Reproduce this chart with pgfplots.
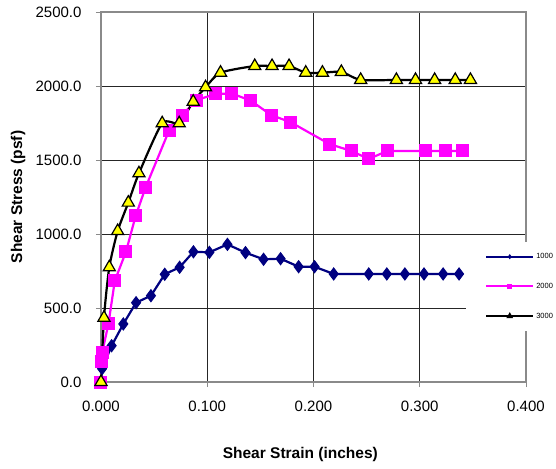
\documentclass[border=0pt]{standalone}
\usepackage{pgfplots}
\pgfplotsset{compat=1.18}
\usepackage{fontspec}
\setmainfont{Liberation Sans}
\definecolor{navy}{HTML}{000080}
\definecolor{mag}{HTML}{FF00FF}
\definecolor{yel}{HTML}{FFFF00}
\definecolor{frame}{HTML}{8A8A8A}
\pgfplotsset{
  legA/.style={legend image code/.code={\draw[mark repeat=2, mark phase=2, ##1, mark size=1.8pt, line width=2pt] plot coordinates {(0pt,0pt) (23.5pt,0pt) (47pt,0pt)};}},
  legB/.style={legend image code/.code={\draw[mark repeat=2, mark phase=2, ##1, mark size=2pt, mark options={fill=black}, line width=2pt, sharp plot] plot coordinates {(0pt,0pt) (23.5pt,0pt) (47pt,0pt)};}},
}
\begin{document}
\begin{tikzpicture}
\useasboundingbox (-101pt,-86pt) rectangle (455pt,382pt);
\begin{axis}[
  scale only axis,
  width=425pt, height=370pt,
  xmin=0, xmax=0.4, ymin=0, ymax=2500,
  xtick={0,0.1,0.2,0.3,0.4},
  ytick={0,500,1000,1500,2000,2500},
  /pgf/number format/assume math mode=true,
  xticklabel style={/pgf/number format/.cd, fixed, fixed zerofill, precision=3, /tikz/.cd, yshift=-10pt},
  yticklabel style={/pgf/number format/.cd, fixed, fixed zerofill, precision=1, 1000 sep={}, /tikz/.cd, xshift=-11pt},
  scaled x ticks=false, scaled y ticks=false,
  tick label style={font=\fontsize{15}{18}\selectfont},
  tick align=outside, tickpos=left,
  major tick length=5pt,
  every tick/.style={draw=frame, line width=0.8pt},
  axis line style={draw=frame, line width=1.6pt},
  grid=major,
  major grid style={draw=black!85, line width=0.8pt},
  xlabel={\textbf{Shear Strain (inches)}},
  ylabel={\textbf{Shear Stress (psf)}},
  every axis x label/.style={at={(axis description cs:0.469,-0.197)}, anchor=center, font=\fontsize{15.5}{18}\selectfont},
  every axis y label/.style={at={(axis description cs:-0.195,0.5)}, anchor=center, rotate=90, font=\fontsize{15.5}{18}\selectfont},
  legend style={at={(rel axis cs:0.859,0.378)}, anchor=north west, fill=white, draw=none,
    font=\fontsize{7.5}{8}\selectfont, inner xsep=19pt, inner ysep=9pt,
    row sep=19pt, /tikz/every even column/.append style={column sep=3pt}},
  legend cell align=left,
]
\addplot[color=navy, line width=2.2pt, mark=diamond*, mark size=6pt, mark options={fill=navy, draw=navy, line width=1pt}, legA]
coordinates {
(0,0) (0.001,90) (0.010,245) (0.021,392) (0.033,536) (0.047,583) (0.060,728) (0.074,775)
(0.087,880) (0.102,876) (0.119,930) (0.136,874) (0.153,829) (0.169,833) (0.186,779)
(0.201,779) (0.219,730) (0.252,730) (0.269,730) (0.286,730) (0.304,730) (0.322,730) (0.337,730)
};
\addlegendentry{1000}
\addplot[color=mag, line width=2.2pt, mark=square*, mark size=6pt, mark options={fill=mag, draw=mag, line width=1pt}, legA]
coordinates {
(0,0) (0.0005,140) (0.001,196) (0.007,392) (0.013,684) (0.0235,880) (0.0326,1122) (0.042,1315)
(0.064,1698) (0.0764,1804) (0.090,1905) (0.108,1946) (0.1228,1950) (0.141,1901) (0.160,1804)
(0.1786,1755) (0.215,1608) (0.2356,1561) (0.252,1507) (0.2694,1561) (0.305,1561) (0.324,1561) (0.3405,1561)
};
\addlegendentry{2000}
\addplot[color=black, line width=2.2pt, smooth, tension=0.4, mark=triangle*, mark size=7pt, mark options={fill=yel, draw=black, line width=1.2pt, solid}, legB]
coordinates {
(0,0) (0.0028,434) (0.0078,775) (0.0157,1020) (0.0257,1212) (0.0357,1410) (0.0576,1748)
(0.0736,1748) (0.0868,1894) (0.0984,1991) (0.1125,2090) (0.1447,2135) (0.161,2135) (0.177,2135)
(0.1927,2090) (0.2084,2090) (0.2262,2095) (0.2444,2041) (0.278,2041) (0.296,2041) (0.314,2041)
(0.3334,2041) (0.3477,2041)
};
\addlegendentry{3000}
\end{axis}
\end{tikzpicture}
\end{document}
